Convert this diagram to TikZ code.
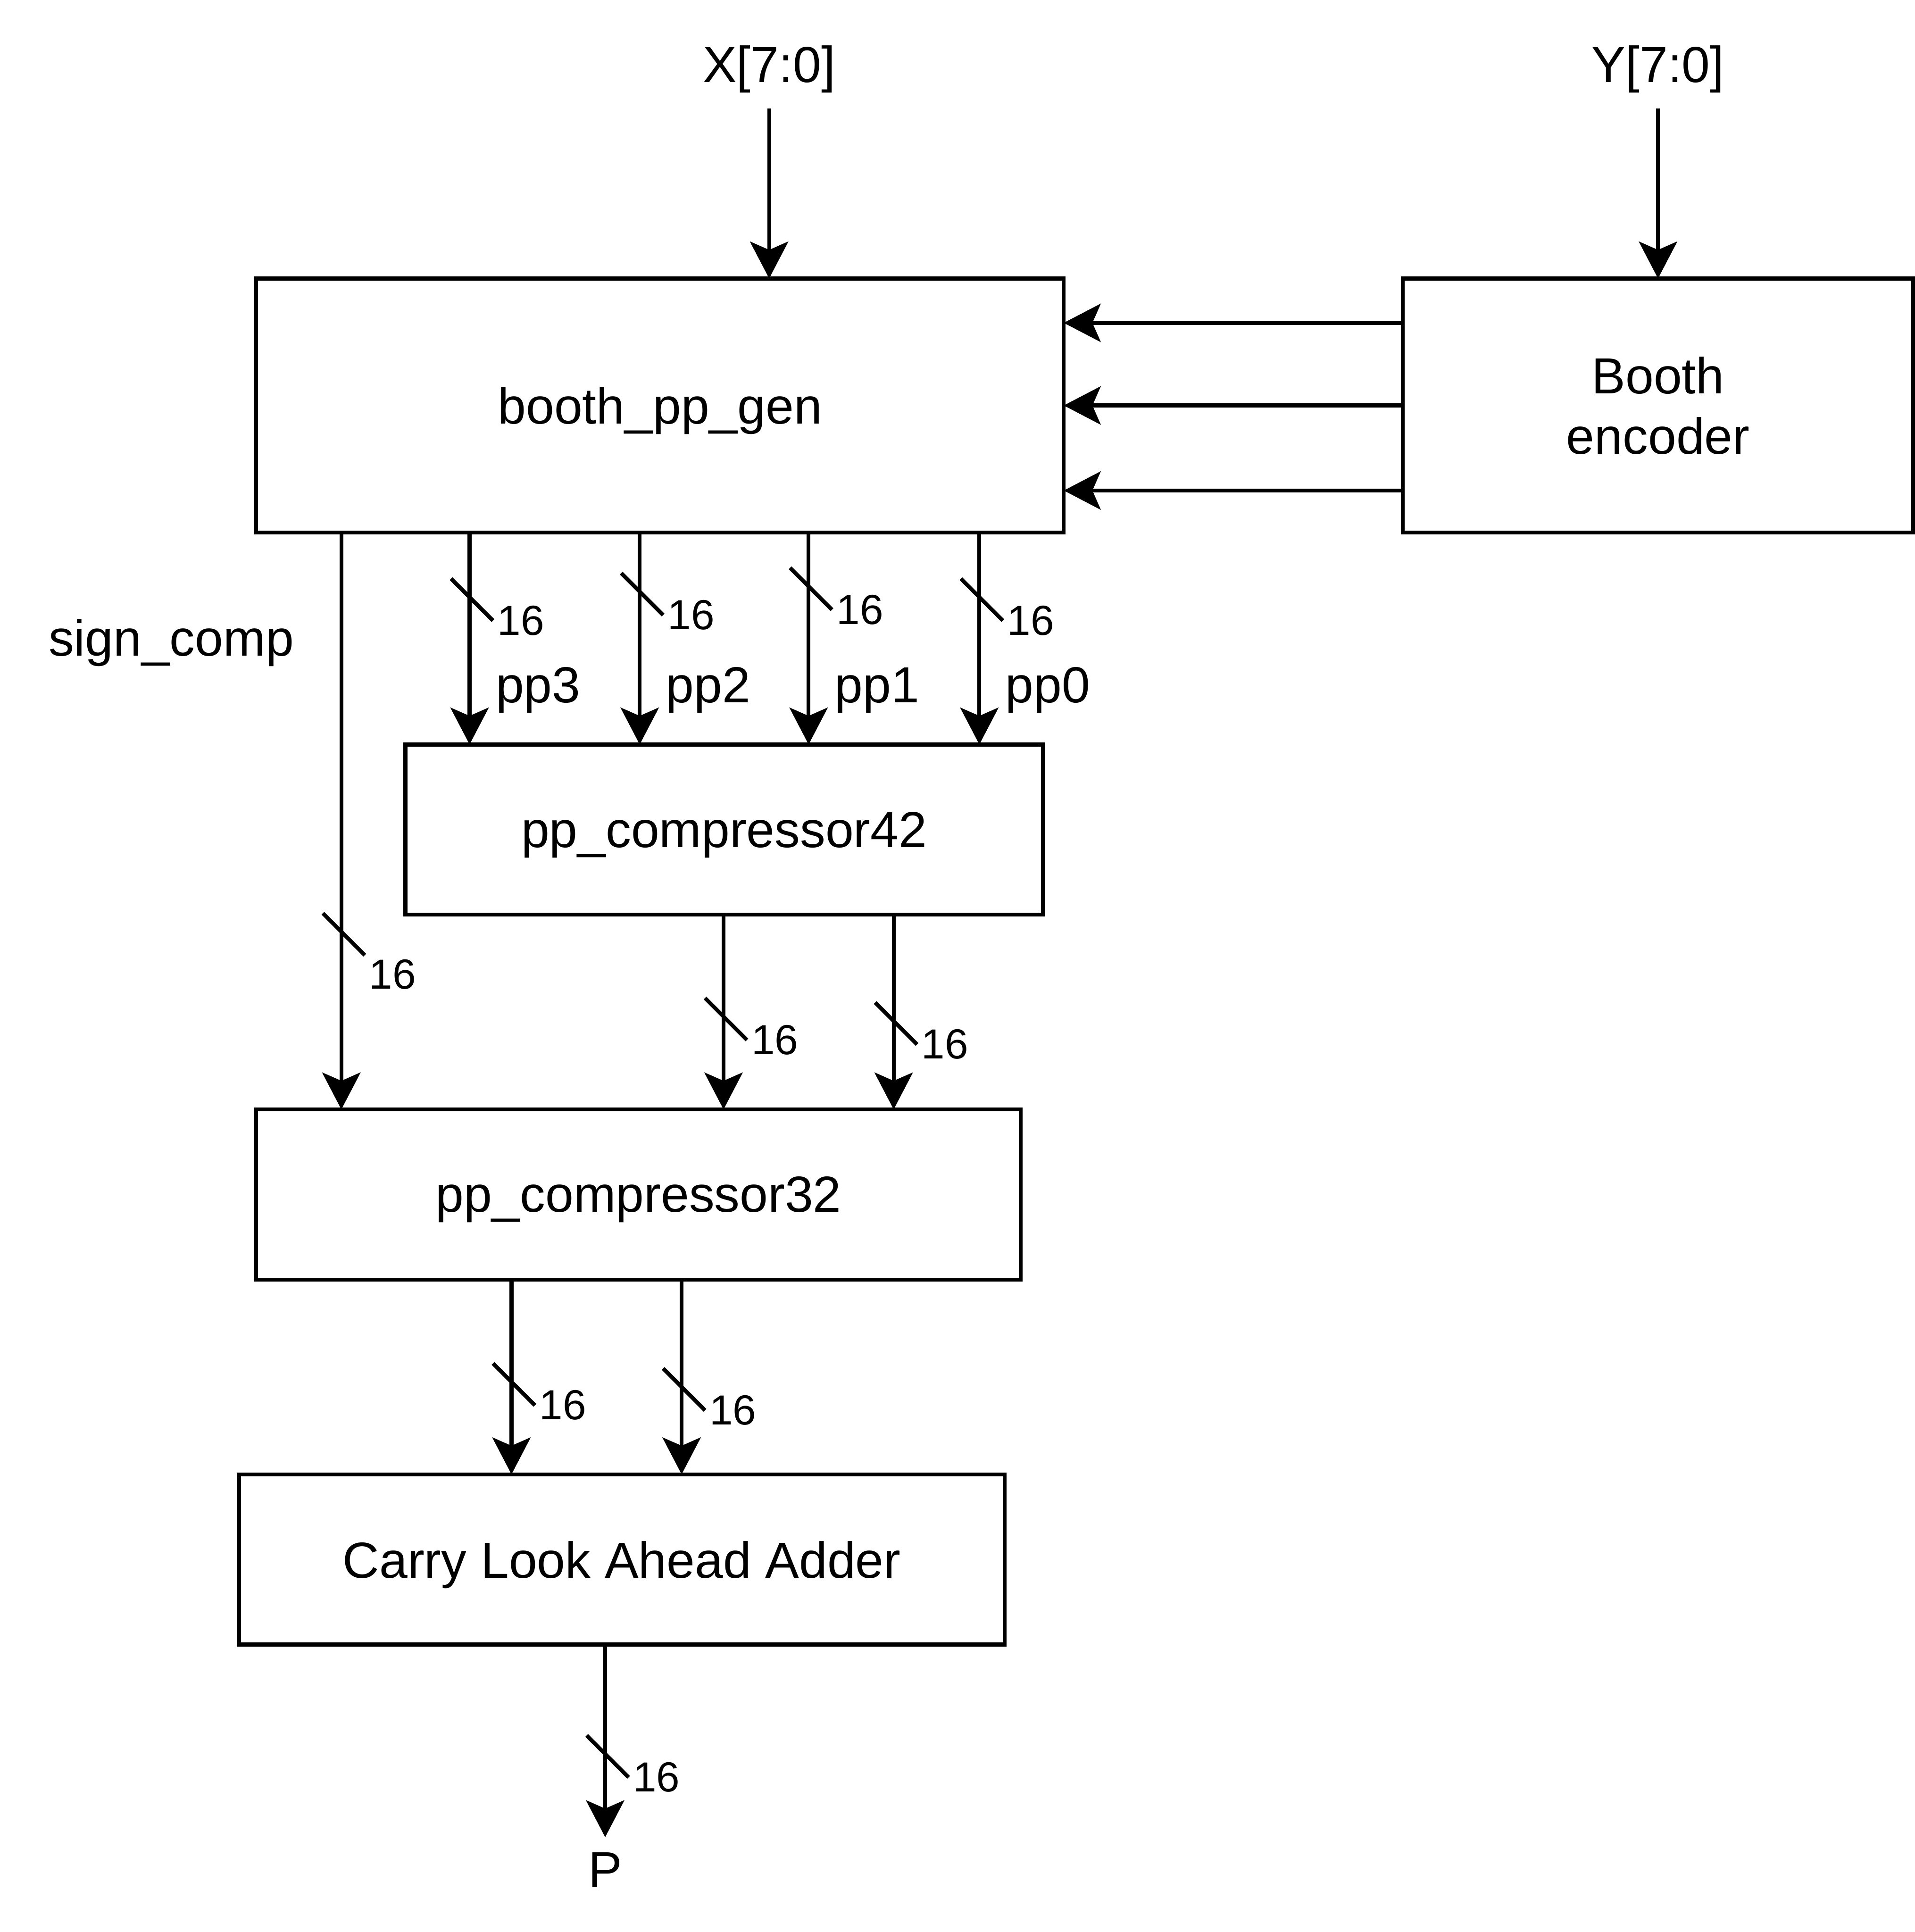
\documentclass[tikz,border=0pt]{standalone}
\usepackage{fontspec}
\setmainfont{Liberation Sans}
\usetikzlibrary{arrows.meta,positioning}
\tikzset{
  blk/.style   ={draw,line width=0.9pt,inner sep=0pt,outer sep=0pt,align=center,
                 text depth=0pt,font=\fontsize{11.7}{14}\selectfont},
  lbl/.style   ={font=\fontsize{11.7}{14}\selectfont},
  sig/.style   ={anchor=base west,inner sep=0pt,xshift=5.6pt,
                 font=\fontsize{11.7}{14}\selectfont},
  buslbl/.style={font=\fontsize{9.7}{11}\selectfont,inner sep=0.6pt},
  flow/.style  ={-{Stealth[length=8.5pt,width=8.8pt,inset=1.9pt]},line width=0.9pt},
  tick/.style  ={-,line width=0.9pt},
  pics/bus16/.style={code={\draw[tick] (-15,-15) -- (19,19) node[buslbl,anchor=#1] {16};}},
  pics/bus16/.default=west
}
\begin{document}
\begin{tikzpicture}[x=0.01cm,y=-0.01cm]
    \useasboundingbox (0,0) rectangle (1554,1568);
    % generator & encoder
    \node[blk,minimum width=6.55cm,minimum height=2.06cm,anchor=north west] (gen) at (208,226) {booth\_pp\_gen};
    \node[blk,minimum width=4.14cm,minimum height=2.06cm,right=2.75cm of gen] (enc) {Booth\\encoder};
    % compressor tree & adder
    \node[blk,minimum width=5.17cm,minimum height=1.38cm,anchor=north west] (c42) at ([xshift=1.21cm,yshift=-1.72cm]gen.south west) {pp\_compressor42};
    \node[blk,minimum width=6.20cm,minimum height=1.38cm,anchor=north west] (c32) at ([xshift=-1.21cm,yshift=-1.58cm]c42.south west) {pp\_compressor32};
    \node[blk,minimum width=6.21cm,minimum height=1.38cm,anchor=north west] (cla) at ([xshift=-0.14cm,yshift=-1.58cm]c32.south west) {Carry Look Ahead Adder};
    % ports
    \node[lbl,anchor=base] (xin) at ([xshift=4.16cm,yshift=1.59cm]gen.north west) {X[7:0]};
    \node[lbl,anchor=base] (yin) at ([yshift=1.59cm]enc.north) {Y[7:0]};
    \node[lbl,anchor=base] (signlbl) at ([xshift=-0.69cm,yshift=-1.0cm]gen.south west) {sign\_comp};
    \node[lbl,anchor=base] (p) at ([xshift=2.97cm,yshift=-1.97cm]cla.south west) {P};
    % taps
    \coordinate (sc) at ([xshift=0.69cm]gen.south west);
    \coordinate (t3) at ([xshift=1.73cm]gen.south west);
    \coordinate (t2) at ([xshift=3.11cm]gen.south west);
    \coordinate (t1) at ([xshift=4.48cm]gen.south west);
    \coordinate (t0) at ([xshift=5.865cm]gen.south west);
    \coordinate (s42) at ([xshift=2.58cm]c42.south west);
    \coordinate (c42b) at ([xshift=3.96cm]c42.south west);
    \coordinate (s32) at ([xshift=2.07cm]c32.south west);
    \coordinate (c32b) at ([xshift=3.45cm]c32.south west);
    \draw[flow] (xin) -- (xin |- gen.north);
    \draw[flow] (yin) -- (yin |- enc.north);
    \draw[flow] ([yshift=-0.36cm]enc.north west) -- ([yshift=-0.36cm]gen.north east);
    \draw[flow] (enc.west) -- (gen.east);
    \draw[flow] ([yshift=-1.72cm]enc.north west) -- ([yshift=-1.72cm]gen.north east);
    \draw[flow] (t3) -- pic[pos=.305]{bus16} node[sig,pos=.802]{pp3} (t3 |- c42.north);
    \draw[flow] (t2) -- pic[pos=.279]{bus16} node[sig,pos=.802]{pp2} (t2 |- c42.north);
    \draw[flow] (t1) -- pic[pos=.254]{bus16} node[sig,pos=.802]{pp1} (t1 |- c42.north);
    \draw[flow] (t0) -- pic[pos=.305]{bus16} node[sig,pos=.802]{pp0} (t0 |- c42.north);
    \draw[flow] (sc) -- pic[pos=.692]{bus16=north west} (sc |- c32.north);
    \draw[flow] (s42) -- pic[pos=.523]{bus16} (s42 |- c32.north);
    \draw[flow] (c42b) -- pic[pos=.546]{bus16} (c42b |- c32.north);
    \draw[flow] (s32) -- pic[pos=.525]{bus16} (s32 |- cla.north);
    \draw[flow] (c32b) -- pic[pos=.551]{bus16} (c32b |- cla.north);
    \draw[flow] (p |- cla.south) -- pic[pos=.568]{bus16} (p);
\end{tikzpicture}
\end{document}
